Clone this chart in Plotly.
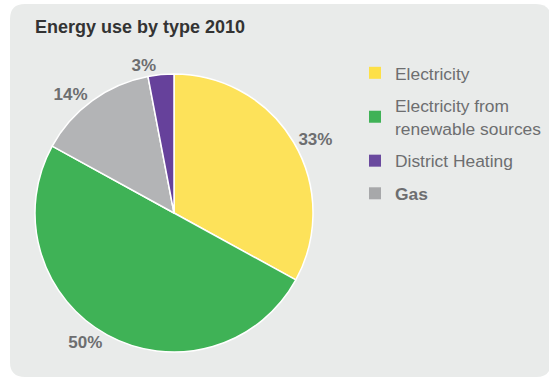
import plotly.graph_objects as go

# Energy use by type, 2010 (share in %)
slice_labels = ["Electricity", "Electricity from renewable sources", "Gas", "District Heating"]
slice_values = [33, 50, 14, 3]
slice_colors = ["#fde25a", "#3fb256", "#b3b4b6", "#66419b"]

# Legend entries, in display order
legend_names = ["Electricity", "Electricity from<br>renewable sources", "District Heating", "<b>Gas</b>"]
legend_colors = ["#fde047", "#3fb256", "#6a4a9e", "#a7a8aa"]

W, H = 549, 378
FONT = "Liberation Sans, Arial, sans-serif"
LABEL_GREY = "#6d6e70"


def px(x, y):
    """Pixel position -> paper coordinates (margins are zero)."""
    return x / W, 1 - y / H


def rounded_rect(x0, y0, x1, y1, r):
    pts = []
    def P(x, y):
        a, b = px(x, y)
        return f"{a:.5f},{b:.5f}"
    pts.append(f"M{P(x0 + r, y0)}")
    pts.append(f"L{P(x1 - r, y0)}")
    pts.append(f"Q{P(x1, y0)} {P(x1, y0 + r)}")
    pts.append(f"L{P(x1, y1 - r)}")
    pts.append(f"Q{P(x1, y1)} {P(x1 - r, y1)}")
    pts.append(f"L{P(x0 + r, y1)}")
    pts.append(f"Q{P(x0, y1)} {P(x0, y1 - r)}")
    pts.append(f"L{P(x0, y0 + r)}")
    pts.append(f"Q{P(x0, y0)} {P(x0 + r, y0)}")
    pts.append("Z")
    return " ".join(pts)


fig = go.Figure()

cx, cy, rad = 174, 213, 139
dx0, dy1 = px(cx - rad, cy + rad)
dx1, dy0 = px(cx + rad, cy - rad)

fig.add_trace(go.Pie(
    labels=slice_labels,
    values=slice_values,
    sort=False,
    direction="clockwise",
    rotation=0,
    marker=dict(colors=slice_colors, line=dict(color="white", width=1.5)),
    texttemplate="%{value}%",
    textposition="outside",
    textfont=dict(family=FONT, size=17, color=LABEL_GREY, weight="bold"),
    showlegend=False,
    hoverinfo="label+percent",
    domain=dict(x=[dx0, dx1], y=[dy1, dy0]),
))

for name, col in zip(legend_names, legend_colors):
    fig.add_trace(go.Scatter(
        x=[None], y=[None], mode="markers", name=name, legendgroup=name,
        marker=dict(symbol="square", size=12, color=col),
    ))

fig.update_layout(
    width=W, height=H,
    margin=dict(l=0, r=0, t=0, b=0, autoexpand=False),
    paper_bgcolor="white",
    plot_bgcolor="rgba(0,0,0,0)",
    xaxis=dict(visible=False),
    yaxis=dict(visible=False),
    shapes=[dict(type="path", xref="paper", yref="paper",
                 path=rounded_rect(10, 4, 551, 377, 15),
                 fillcolor="#e9ebea", line=dict(width=0), layer="below")],
    annotations=[dict(text="<b>Energy use by type 2010</b>", xref="paper", yref="paper",
                      x=33 / W, y=1 - 15 / H, xanchor="left", yanchor="top",
                      showarrow=False, font=dict(family=FONT, size=18, color="#333333"))],
    legend=dict(x=355 / W, y=1 - 55 / H, xanchor="left", yanchor="top",
                bgcolor="rgba(0,0,0,0)", traceorder="grouped", tracegroupgap=7,
                itemwidth=30,
                font=dict(family=FONT, size=17.4, color=LABEL_GREY)),
)

fig.write_html("out.html")
